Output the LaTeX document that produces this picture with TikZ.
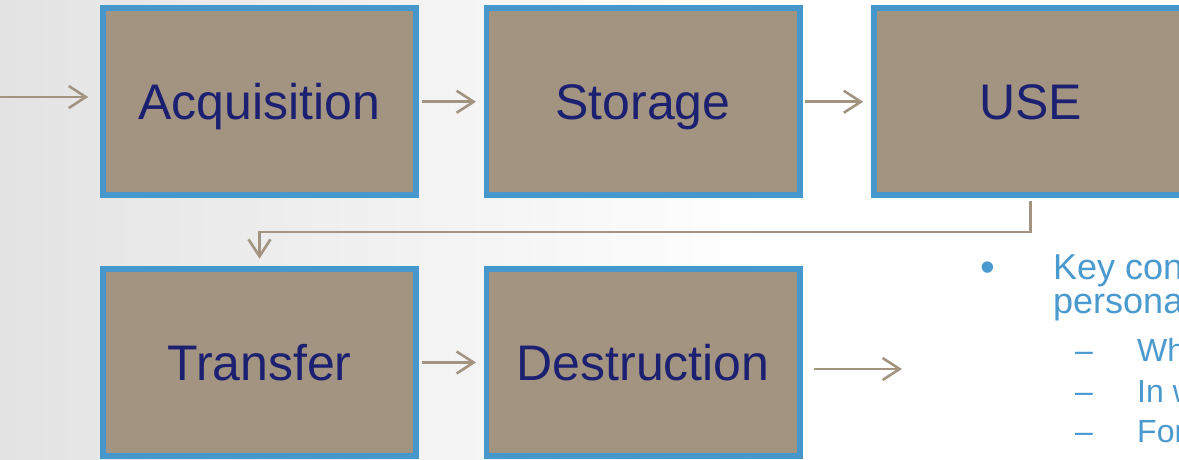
\documentclass[tikz,border=0pt]{standalone}
\usepackage{fontspec}
\setmainfont{Liberation Sans}
\usetikzlibrary{arrows.meta}
\definecolor{boxfill}{HTML}{A39381}
\definecolor{boxline}{HTML}{4697CC}
\definecolor{navy}{HTML}{1B2070}
\definecolor{arrowc}{HTML}{A39381}
\definecolor{bluetxt}{HTML}{4A9ACF}
\begin{document}
\begin{tikzpicture}[x=1pt,y=-1pt,
  box/.style={draw=boxline, fill=boxfill, line width=5.6pt,
    minimum width=313.4pt, minimum height=187pt, inner sep=0pt,
    text=navy, font=\fontsize{50}{60}\selectfont,
    text height=36pt, text depth=0pt},
  arr/.style={draw=arrowc, line width=2.6pt,
    -{Straight Barb[length=17pt,width=22pt]}},
  bl/.style={anchor=base west, inner sep=0pt, text=bluetxt}]
\useasboundingbox (0,0) rectangle (1179,459);
\clip (0,0) rectangle (1179,459);
\shade[left color=black!11, right color=white] (0,0) rectangle (760,459);
\fill[white] (760,0) rectangle (1179,459);

% boxes
\node[box] (acq) at (259.5,101.75) {Acquisition};
\node[box] (sto) at (643,101.75) {Storage};
\node[box] (use) at (1030.5,101.75) {USE};
\node[box] (tra) at (259.5,362.5) {Transfer};
\node[box] (des) at (643,362.5) {Destruction};

% connectors
\coordinate (in) at (0,97);
\coordinate (bend) at (0,232);
\coordinate (out) at (902,369);
\draw[arr] (in) -- ([xshift=-11.8pt]in -| acq.west);
\draw[arr] ([xshift=2.8pt]acq.east) -- ([xshift=-7.5pt]sto.west);
\draw[arr] ([xshift=2.8pt]sto.east) -- ([xshift=-7.8pt]use.west);
\draw[arr] ([yshift=-2.8pt]use.south) -- (use.south |- bend) -- (tra.north |- bend) -- ([yshift=7.5pt]tra.north);
\draw[arr] ([xshift=2.8pt]tra.east) -- ([xshift=-7.5pt]des.west);
\draw[arr] ([xshift=11.8pt]des.east |- out) -- (out);

% right-hand text
\node[bl, font=\fontsize{42}{46}\selectfont] (bul) at (980,281) {•};
\node[bl, font=\fontsize{36}{40}\selectfont] (k1) at (1053,279) {Key con};
\node[bl, font=\fontsize{36}{40}\selectfont] (k2) at (1053,313) {persona};
\node[bl, font=\fontsize{32}{38}\selectfont] (d1) at (1075,361) {–};
\node[bl, font=\fontsize{32}{38}\selectfont] (s1) at (1137,361) {Wh};
\node[bl, font=\fontsize{32}{38}\selectfont] (d2) at (1075,402) {–};
\node[bl, font=\fontsize{32}{38}\selectfont] (s2) at (1137,402) {In w};
\node[bl, font=\fontsize{32}{38}\selectfont] (d3) at (1075,442) {–};
\node[bl, font=\fontsize{32}{38}\selectfont] (s3) at (1137,442) {For};
\end{tikzpicture}
\end{document}
